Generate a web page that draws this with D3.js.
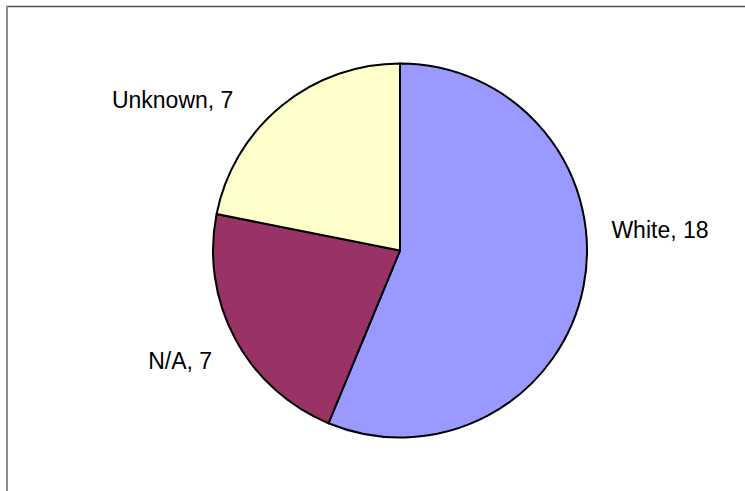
<!DOCTYPE html>
<html>
<head>
<meta charset="utf-8">
<script src="https://cdn.jsdelivr.net/npm/d3@7"></script>
<style>
  html, body { margin: 0; padding: 0; background: #fff; }
  svg { display: block; }
</style>
</head>
<body>
<svg id="chart" width="745" height="491"></svg>
<script>
// Chart data
const categories = ["White", "N/A", "Unknown"];
const values = [18, 7, 7];
const colors = ["#9999FF", "#993366", "#FFFFCC"];

const width = 745, height = 491;
const cx = 400, cy = 250.5, radius = 187;

// Label offsets from each slice's outer midpoint (layout only)
const labelNudge = [
  { dx: 28, dy: -49, anchor: "start" },
  { dx: -23, dy: 30, anchor: "end" },
  { dx: -48, dy: 2, anchor: "end" }
];

const svg = d3.select("#chart");

// Chart frame
svg.append("line")
  .attr("x1", 6).attr("y1", 6.5).attr("x2", width).attr("y2", 6.5)
  .attr("stroke", "#505050").attr("stroke-width", 1.5);
svg.append("line")
  .attr("x1", 7).attr("y1", 6).attr("x2", 7).attr("y2", height)
  .attr("stroke", "#8c8c8c").attr("stroke-width", 2);

const data = categories.map((c, i) => ({ name: c, value: values[i], color: colors[i] }));

const pie = d3.pie().sort(null).value(d => d.value);
const arc = d3.arc().innerRadius(0).outerRadius(radius);
const arcs = pie(data);

const g = svg.append("g").attr("transform", `translate(${cx},${cy})`);

g.selectAll("path.slice")
  .data(arcs)
  .join("path")
  .attr("class", "slice")
  .attr("d", arc)
  .attr("fill", d => d.data.color)
  .attr("stroke", "#000")
  .attr("stroke-width", 2)
  .attr("stroke-linejoin", "round");

g.selectAll("text.label")
  .data(arcs)
  .join("text")
  .attr("class", "label")
  .each(function (d, i) {
    const mid = (d.startAngle + d.endAngle) / 2;
    const x = radius * Math.sin(mid) + labelNudge[i].dx;
    const y = -radius * Math.cos(mid) + labelNudge[i].dy;
    d3.select(this)
      .attr("x", x)
      .attr("y", y)
      .attr("text-anchor", labelNudge[i].anchor);
  })
  .attr("font-family", "'Liberation Sans', Arial, sans-serif")
  .attr("font-size", 23)
  .attr("fill", "#000")
  .text(d => `${d.data.name}, ${d.data.value}`);
</script>
</body>
</html>
